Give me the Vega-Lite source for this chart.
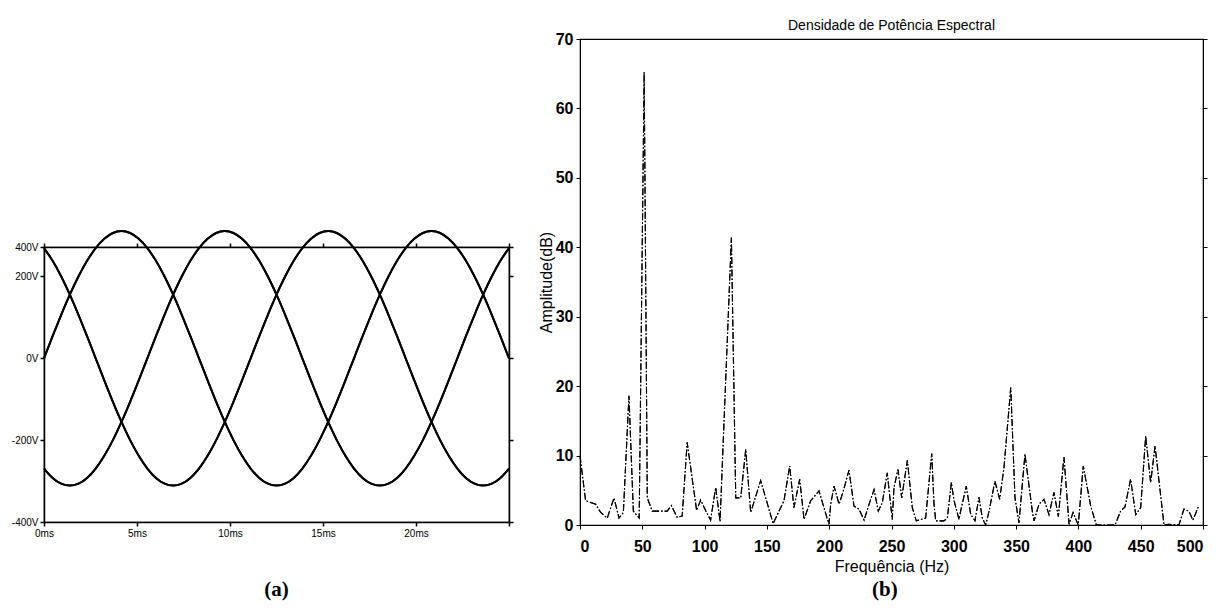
{
  "$schema": "https://vega.github.io/schema/vega-lite/v6.json",
  "background": "white",
  "padding": {"left": 10, "top": 18, "right": 0, "bottom": 0},
  "spacing": 22,
  "datasets": {
    "phases": [
      {"t": 0, "a": 0, "b": 269.3, "c": -269.3},
      {"t": 0.463, "a": 54, "b": 238.2, "c": -292.2},
      {"t": 0.926, "a": 106.4, "b": 199.9, "c": -306.3},
      {"t": 1.389, "a": 155.5, "b": 155.5, "c": -311},
      {"t": 1.852, "a": 199.9, "b": 106.4, "c": -306.3},
      {"t": 2.315, "a": 238.2, "b": 54, "c": -292.2},
      {"t": 2.778, "a": 269.3, "b": 0, "c": -269.3},
      {"t": 3.241, "a": 292.2, "b": -54, "c": -238.2},
      {"t": 3.704, "a": 306.3, "b": -106.4, "c": -199.9},
      {"t": 4.167, "a": 311, "b": -155.5, "c": -155.5},
      {"t": 4.63, "a": 306.3, "b": -199.9, "c": -106.4},
      {"t": 5.093, "a": 292.2, "b": -238.2, "c": -54},
      {"t": 5.556, "a": 269.3, "b": -269.3, "c": 0},
      {"t": 6.019, "a": 238.2, "b": -292.2, "c": 54},
      {"t": 6.481, "a": 199.9, "b": -306.3, "c": 106.4},
      {"t": 6.944, "a": 155.5, "b": -311, "c": 155.5},
      {"t": 7.407, "a": 106.4, "b": -306.3, "c": 199.9},
      {"t": 7.87, "a": 54, "b": -292.2, "c": 238.2},
      {"t": 8.333, "a": 0, "b": -269.3, "c": 269.3},
      {"t": 8.796, "a": -54, "b": -238.2, "c": 292.2},
      {"t": 9.259, "a": -106.4, "b": -199.9, "c": 306.3},
      {"t": 9.722, "a": -155.5, "b": -155.5, "c": 311},
      {"t": 10.185, "a": -199.9, "b": -106.4, "c": 306.3},
      {"t": 10.648, "a": -238.2, "b": -54, "c": 292.2},
      {"t": 11.111, "a": -269.3, "b": 0, "c": 269.3},
      {"t": 11.574, "a": -292.2, "b": 54, "c": 238.2},
      {"t": 12.037, "a": -306.3, "b": 106.4, "c": 199.9},
      {"t": 12.5, "a": -311, "b": 155.5, "c": 155.5},
      {"t": 12.963, "a": -306.3, "b": 199.9, "c": 106.4},
      {"t": 13.426, "a": -292.2, "b": 238.2, "c": 54},
      {"t": 13.889, "a": -269.3, "b": 269.3, "c": 0},
      {"t": 14.352, "a": -238.2, "b": 292.2, "c": -54},
      {"t": 14.815, "a": -199.9, "b": 306.3, "c": -106.4},
      {"t": 15.278, "a": -155.5, "b": 311, "c": -155.5},
      {"t": 15.741, "a": -106.4, "b": 306.3, "c": -199.9},
      {"t": 16.204, "a": -54, "b": 292.2, "c": -238.2},
      {"t": 16.667, "a": 0, "b": 269.3, "c": -269.3},
      {"t": 17.13, "a": 54, "b": 238.2, "c": -292.2},
      {"t": 17.593, "a": 106.4, "b": 199.9, "c": -306.3},
      {"t": 18.056, "a": 155.5, "b": 155.5, "c": -311},
      {"t": 18.519, "a": 199.9, "b": 106.4, "c": -306.3},
      {"t": 18.981, "a": 238.2, "b": 54, "c": -292.2},
      {"t": 19.444, "a": 269.3, "b": 0, "c": -269.3},
      {"t": 19.907, "a": 292.2, "b": -54, "c": -238.2},
      {"t": 20.37, "a": 306.3, "b": -106.4, "c": -199.9},
      {"t": 20.833, "a": 311, "b": -155.5, "c": -155.5},
      {"t": 21.296, "a": 306.3, "b": -199.9, "c": -106.4},
      {"t": 21.759, "a": 292.2, "b": -238.2, "c": -54},
      {"t": 22.222, "a": 269.3, "b": -269.3, "c": 0},
      {"t": 22.685, "a": 238.2, "b": -292.2, "c": 54},
      {"t": 23.148, "a": 199.9, "b": -306.3, "c": 106.4},
      {"t": 23.611, "a": 155.5, "b": -311, "c": 155.5},
      {"t": 24.074, "a": 106.4, "b": -306.3, "c": 199.9},
      {"t": 24.537, "a": 54, "b": -292.2, "c": 238.2},
      {"t": 25, "a": 0, "b": -269.3, "c": 269.3}
    ],
    "psd": [
      {"f": 0, "db": 10}, {"f": 4.5, "db": 3.5}, {"f": 12.6, "db": 3.0}, {"f": 16.6, "db": 1.8},
      {"f": 21.9, "db": 1.0}, {"f": 27.3, "db": 3.9}, {"f": 31.3, "db": 1.0}, {"f": 34.8, "db": 1.8},
      {"f": 39.3, "db": 18.6}, {"f": 42.8, "db": 2.0}, {"f": 46, "db": 1.3}, {"f": 47.5, "db": 1.0},
      {"f": 51.5, "db": 65.2}, {"f": 54, "db": 3.9}, {"f": 58, "db": 2.0}, {"f": 70, "db": 2.0},
      {"f": 73.3, "db": 2.8}, {"f": 78, "db": 1.1}, {"f": 82, "db": 1.3}, {"f": 86, "db": 11.9},
      {"f": 93.6, "db": 2.1}, {"f": 96.8, "db": 3.6}, {"f": 100.8, "db": 2.1}, {"f": 104.8, "db": 0.7},
      {"f": 108.9, "db": 5.4}, {"f": 112.4, "db": 0.5}, {"f": 121.5, "db": 41.4}, {"f": 125, "db": 3.9},
      {"f": 129, "db": 3.9}, {"f": 133, "db": 10.9}, {"f": 137, "db": 1.8}, {"f": 145, "db": 6.4},
      {"f": 155, "db": 0.2}, {"f": 163.7, "db": 3.5}, {"f": 168.3, "db": 8.5}, {"f": 171.7, "db": 2.5},
      {"f": 176.3, "db": 6.6}, {"f": 179.8, "db": 0.8}, {"f": 185.1, "db": 3.5}, {"f": 191.8, "db": 4.9},
      {"f": 195.8, "db": 2.5}, {"f": 199.8, "db": 0.1}, {"f": 201.2, "db": 3.0}, {"f": 203.9, "db": 5.6},
      {"f": 207.9, "db": 3.0}, {"f": 211, "db": 4.7}, {"f": 215.9, "db": 7.9}, {"f": 219.9, "db": 2.7},
      {"f": 223.9, "db": 2.3}, {"f": 228, "db": 0.7}, {"f": 232, "db": 3.0}, {"f": 236, "db": 5.1},
      {"f": 239.4, "db": 2.0}, {"f": 242.6, "db": 3.2}, {"f": 246.6, "db": 7.5}, {"f": 250.6, "db": 0.8},
      {"f": 252, "db": 5.4}, {"f": 255.2, "db": 8.0}, {"f": 258.2, "db": 3.9}, {"f": 262.7, "db": 9.3},
      {"f": 266.7, "db": 2.5}, {"f": 269.9, "db": 0.6}, {"f": 277.4, "db": 1.0}, {"f": 282.3, "db": 10.3},
      {"f": 284.1, "db": 3.0}, {"f": 285.5, "db": 0.6}, {"f": 292.1, "db": 0.6}, {"f": 294.8, "db": 1.0},
      {"f": 298, "db": 6.1}, {"f": 300.2, "db": 3.5}, {"f": 304.2, "db": 0.8}, {"f": 305.5, "db": 2.0},
      {"f": 310, "db": 5.6}, {"f": 313.6, "db": 1.5}, {"f": 317, "db": 0.6}, {"f": 320.2, "db": 4.0},
      {"f": 322.9, "db": 1.0}, {"f": 325.6, "db": 0}, {"f": 328.3, "db": 2.0}, {"f": 333, "db": 6.3},
      {"f": 336.8, "db": 3.7}, {"f": 340.3, "db": 8.3}, {"f": 345.7, "db": 19.8}, {"f": 349.1, "db": 3.9},
      {"f": 352.3, "db": 0.3}, {"f": 357.1, "db": 10.2}, {"f": 363, "db": 2.0}, {"f": 364.4, "db": 0.6},
      {"f": 368.4, "db": 3.0}, {"f": 372.4, "db": 3.7}, {"f": 376.4, "db": 1.5}, {"f": 380.4, "db": 4.7},
      {"f": 383.9, "db": 1.2}, {"f": 388.4, "db": 9.8}, {"f": 392.5, "db": 0.1}, {"f": 395.7, "db": 1.8},
      {"f": 399.9, "db": 0}, {"f": 403.9, "db": 8.5}, {"f": 409.9, "db": 2.7}, {"f": 414.4, "db": 0},
      {"f": 423.2, "db": 0}, {"f": 429.4, "db": 0}, {"f": 433.9, "db": 2.0}, {"f": 437.4, "db": 2.6},
      {"f": 441.9, "db": 6.6}, {"f": 446, "db": 1.5}, {"f": 450, "db": 2.5}, {"f": 454, "db": 12.8},
      {"f": 458, "db": 6.1}, {"f": 461.5, "db": 11.4}, {"f": 468.7, "db": 0}, {"f": 472.7, "db": 0.1},
      {"f": 480.7, "db": 0}, {"f": 484.7, "db": 2.3}, {"f": 488.7, "db": 2.0}, {"f": 491.9, "db": 0.7},
      {"f": 496.2, "db": 2.6}
    ]
  },
  "hconcat": [
    {
      "spacing": 0,
      "vconcat": [
        {
          "data": {"values": [{}]},
          "width": 465,
          "height": 187,
          "view": {"stroke": null},
          "mark": {"type": "point", "opacity": 0}
        },
        {
          "width": 465,
          "height": 275,
          "title": {"text": "(a)", "orient": "bottom", "anchor": "middle", "offset": 41, "font": "Liberation Serif", "fontSize": 21, "fontWeight": "bold", "frame": "group"},
          "data": {"name": "phases"},
          "transform": [{"fold": ["a", "b", "c"], "as": ["phase", "v"]}],
          "layer": [
            {
              "mark": {"type": "line", "color": "black", "strokeWidth": 2, "interpolate": "monotone", "clip": false},
              "encoding": {
                "x": {"field": "t", "type": "quantitative", "scale": {"domain": [0, 25], "nice": false},
                      "axis": {"orient": "bottom", "values": [0, 5, 10, 15, 20, 25], "labelExpr": "datum.value == 25 ? '' : datum.value + 'ms'", "labelFlush": false, "title": null, "labelFontSize": 10, "tickSize": 4, "labelPadding": 2, "domainWidth": 1.5, "tickWidth": 1.5}},
                "y": {"field": "v", "type": "quantitative", "scale": {"domain": [-400, 272], "nice": false, "zero": false},
                      "axis": {"orient": "left", "values": [-400, -200, 0, 200, 272], "labelExpr": "datum.value > 250 ? '400V' : datum.value + 'V'", "title": null, "labelFontSize": 10, "tickSize": 4, "labelPadding": 2, "domainWidth": 1.5, "tickWidth": 1.5}},
                "detail": {"field": "phase", "type": "nominal"}
              }
            },
            {
              "mark": {"type": "line", "color": "black", "strokeWidth": 2, "interpolate": "monotone", "clip": false},
              "encoding": {
                "x": {"field": "t", "type": "quantitative", "scale": {"domain": [0, 25], "nice": false},
                      "axis": {"orient": "top", "values": [0, 5, 10, 15, 20, 25], "labels": false, "title": null, "tickSize": 4, "domainWidth": 1.5, "tickWidth": 1.5}},
                "y": {"field": "v", "type": "quantitative", "scale": {"domain": [-400, 272], "nice": false, "zero": false},
                      "axis": {"orient": "right", "values": [-400, -200, 0, 200, 272], "labels": false, "title": null, "tickSize": 4, "domainWidth": 1.5, "tickWidth": 1.5}},
                "detail": {"field": "phase", "type": "nominal"}
              }
            }
          ],
          "resolve": {"axis": {"x": "independent", "y": "independent"}}
        }
      ]
    },
    {
      "vconcat": [
        {
          "width": 623,
          "height": 486,
          "title": {"text": "Densidade de Potência Espectral", "fontSize": 14, "fontWeight": "normal", "offset": -2, "frame": "group"},
          "data": {"name": "psd"},
          "layer": [
            {
              "mark": {"type": "line", "color": "black", "strokeWidth": 1.1, "strokeDash": [7, 2, 1.5, 2]},
              "encoding": {
                "x": {"field": "f", "type": "quantitative", "scale": {"domain": [0, 500], "nice": false},
                      "axis": {"values": [0, 50, 100, 150, 200, 250, 300, 350, 400, 450, 500], "title": "Frequência (Hz)", "labelFontSize": 16, "labelFontWeight": "bold", "tickSize": 4, "labelPadding": 9, "titleFontSize": 16, "titleFontWeight": "normal", "titlePadding": 4}},
                "y": {"field": "db", "type": "quantitative", "scale": {"domain": [0, 70], "nice": false},
                      "axis": {"orient": "left", "values": [0, 10, 20, 30, 40, 50, 60, 70], "title": "Amplitude(dB)", "labelFontSize": 16, "labelFontWeight": "bold", "tickSize": 4, "labelPadding": 3, "titleFontSize": 16, "titleFontWeight": "normal", "titlePadding": 1}}
              }
            },
            {
              "mark": {"type": "line", "color": "black", "strokeWidth": 1.1, "strokeDash": [7, 2, 1.5, 2]},
              "encoding": {
                "x": {"field": "f", "type": "quantitative", "scale": {"domain": [0, 500], "nice": false}},
                "y": {"field": "db", "type": "quantitative", "scale": {"domain": [0, 70], "nice": false},
                      "axis": {"orient": "right", "values": [0, 10, 20, 30, 40, 50, 60, 70], "labels": false, "title": null, "tickSize": 4}}
              }
            }
          ],
          "resolve": {"axis": {"y": "independent"}}
        }
      ],
      "title": {"text": "(b)", "orient": "bottom", "anchor": "middle", "offset": 4, "dx": 12, "font": "Liberation Serif", "fontSize": 21, "fontWeight": "bold", "frame": "bounds"}
    }
  ],
  "config": {
    "font": "Liberation Sans",
    "view": {"stroke": "black", "strokeWidth": 1.2},
    "axis": {"domainColor": "black", "tickColor": "black", "labelColor": "black", "titleColor": "black", "grid": false, "labelFont": "Liberation Sans", "titleFont": "Liberation Sans"},
    "title": {"font": "Liberation Sans", "color": "black"}
  }
}
